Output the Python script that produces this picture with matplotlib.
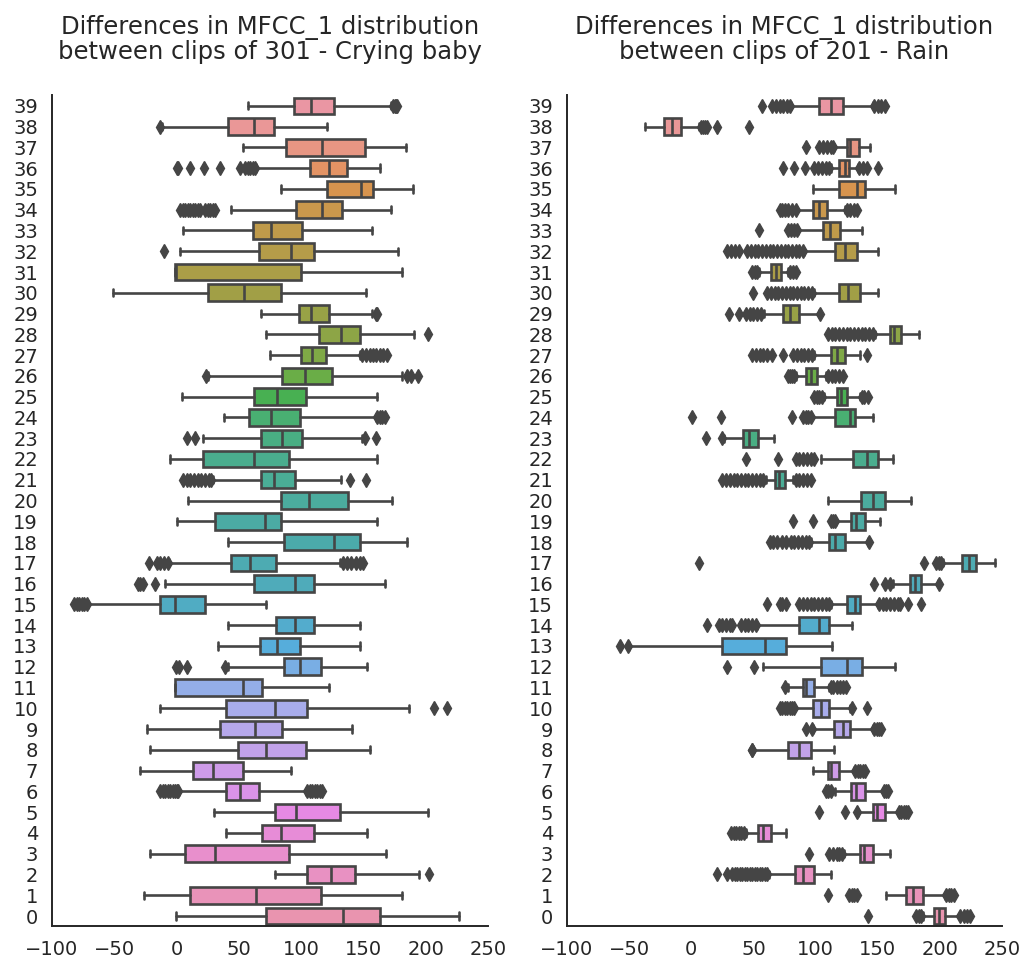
import colorsys

import matplotlib
matplotlib.use("Agg")
import matplotlib.pyplot as plt
import seaborn as sns

categories = list(range(40))

# MFCC_1 differences, 301 - Crying baby (index = category 0..39)
baby_whislo = [-0.3, -26, 79, -21, 40, 30, 2, -29, -21, -24,
               -13, -1, 41, 33, 41, -71, -9, -6, 41, 0,
               9, 29, -5, 21, 38, 4, 25, 75, 72, 68,
               -51, -1, 3, 5, 44, 84, 64, 53, -12, 57]
baby_q1 = [72, 11, 105, 7, 69, 79, 40, 13, 49, 35,
           40, -1, 86, 67, 80, -13, 62, 44, 86, 31,
           84, 68, 21, 68, 58, 62, 85, 100, 114, 98,
           25, -1, 66, 61, 96, 121, 107, 88, 41, 94]
baby_med = [134, 64, 124, 31, 84, 96, 51, 29, 72, 63,
            79, 53, 99, 81, 95, -1, 95, 59, 126, 71,
            106, 78, 62, 85, 76, 81, 103, 109, 132, 108,
            54, -0.8, 92, 76, 117, 148, 122, 117, 62, 108]
baby_q3 = [163, 116, 143, 90, 110, 131, 66, 53, 104, 85,
           105, 69, 116, 99, 110, 23, 110, 80, 147, 84,
           138, 95, 90, 101, 99, 104, 125, 120, 147, 122,
           84, 100, 110, 101, 133, 158, 137, 151, 78, 126]
baby_whishi = [227, 181, 195, 168, 153, 202, 104, 92, 155, 141,
               187, 122, 153, 147, 147, 72, 167, 131, 185, 161,
               173, 132, 161, 149, 160, 161, 181, 147, 191, 157,
               152, 181, 178, 157, 172, 190, 163, 184, 121, 172]
baby_fliers = [
    [], [], [203], [], [], [],
    [-13, -11, -9, -7, -5, -3, -1, 0, 1, 105, 107, 109, 111, 113, 115, 117],
    [], [], [], [207, 217], [], [-0.5, 2, 8, 39], [], [],
    [-82, -80, -78, -76, -74, -72],
    [-31, -29, -27, -17],
    [-22, -16, -13, -10, -7, 134, 137, 140, 144, 147, 150],
    [], [], [],
    [5, 8, 11, 14, 17, 20, 23, 26, 28, 139, 152],
    [], [8, 15, 151, 160], [161, 163, 165, 167], [],
    [24, 185, 188, 194],
    [149, 152, 155, 158, 160, 163, 166, 169],
    [202], [160, 161], [], [], [-10], [],
    [3, 5, 7, 9, 11, 13, 15, 17, 19, 23, 25, 27, 29, 31],
    [],
    [0, 1, 11, 22, 35, 51, 55, 57, 59, 61, 63],
    [], [-13], [174, 175, 176, 177],
]

# MFCC_1 differences, 201 - Rain
rain_whislo = [186.5, 157, 62.7, 122.5, 44, 134, 116, 98, 49.5, 98,
               83, 77.5, 58, -50, 53, 112.5, 162.3, 202.7, 96.4, 116.6,
               110, 60, 104.4, 26.4, 96.4, 107, 84.3, 99, 147.5, 58.7,
               99, 54.6, 91, 85.6, 84.3, 98.2, 112.5, 115.2, -37.4, 80.2]
rain_q1 = [195, 173, 83.5, 135.5, 54, 146, 128.7, 110, 77.5, 115,
           98, 89.6, 104.4, 25, 87, 125.4, 175.8, 218, 110.6, 128.7,
           136.7, 67.3, 130, 41.2, 115.7, 117.4, 92.3, 112.5, 159.6, 73.5,
           118.7, 64, 115.7, 105.8, 97.7, 119.2, 119.2, 125, -22, 102.6]
rain_med = [199, 178.5, 89.5, 139, 57.3, 149.7, 132.7, 112.5, 87, 122,
            104.4, 92.3, 125, 59.5, 102.6, 131.4, 179.8, 223.4, 116, 132.7,
            146.2, 70.8, 141.3, 46.6, 127.3, 120.6, 96.4, 117.4, 163, 79.7,
            126, 68, 124, 111.7, 102.6, 133.5, 123.3, 128, -15.3, 112]
rain_q3 = [204, 186.5, 99, 146, 64, 155.6, 139.4, 118.5, 96.4, 128,
           110.6, 99, 137.5, 76, 110.4, 136, 185.2, 228.8, 123.3, 139.4,
           156, 75.6, 150.2, 53.3, 132, 125.4, 101, 123.3, 169, 86.4,
           135.4, 72, 133.2, 120, 109, 139.4, 126.8, 135, -8.6, 122]
rain_whishi = [216, 204, 112, 159.5, 76, 166, 154, 131, 115, 146,
               128, 111, 163.7, 113, 129.5, 150, 198.7, 244.4, 142, 152,
               177, 81.6, 162.3, 66.8, 146.2, 135.4, 108.5, 135.4, 183.3, 102.6,
               150.2, 77.5, 150.2, 137.3, 124, 163.7, 134, 144, 6.2, 146]
rain_fliers = [
    [142, 181, 183, 185, 216.5, 219, 222, 224],
    [110, 127, 129, 131, 133, 205, 207, 209, 211],
    [21, 29, 33, 35, 37, 39, 41, 43, 45, 47, 49, 51, 53, 55, 57, 59, 61],
    [95, 111, 114, 117, 119, 121],
    [32, 34, 36, 38, 40, 42],
    [103, 124, 133, 167, 169, 171, 173, 174],
    [108.5, 110, 112, 155, 156.5, 158],
    [132, 134, 136, 138, 139.5],
    [48.5, 49],
    [92, 97, 147, 149, 151, 153],
    [71, 73, 75, 77, 79, 81, 83, 129, 141],
    [75.5, 112, 114, 117, 120, 122, 124.5],
    [29, 50.5],
    [-57.5, -51],
    [13, 22, 25, 28, 31, 33, 40, 43, 46, 49, 52],
    [61, 71, 73, 76, 87, 90, 93, 96, 99, 102, 105, 108, 111,
     151, 154, 157, 160, 163, 166, 168, 174, 185],
    [147, 155.6, 160, 199.3],
    [6, 187, 197, 199, 201],
    [63, 66, 69, 73, 76, 80, 83, 86, 89, 92, 95, 143],
    [81.6, 98, 112, 114, 116],
    [],
    [25, 28, 31, 34, 37, 40, 43, 46, 49, 52, 55, 58, 84, 87, 90, 93, 96],
    [44, 69.4, 84, 87, 90, 93, 96, 99],
    [11.6, 25],
    [0.8, 23.7, 81, 90, 92, 94, 96],
    [99, 101, 103, 105, 137, 139, 142],
    [77.5, 79, 81, 83, 110, 113, 116, 119, 122],
    [49, 52, 55, 58, 61, 65, 73.5, 82, 85, 88, 91, 94, 97, 141],
    [110, 113, 116, 119, 122, 125, 128, 131, 134, 137, 140, 143, 146],
    [30, 38, 44, 47, 50, 53, 56, 103.5],
    [50, 61, 64, 67, 70, 73, 76, 79, 82, 85, 88, 91, 94, 97],
    [48.7, 51, 53, 79, 82, 84],
    [29, 32, 35, 38, 45, 48, 51, 54, 57, 60, 63, 66, 69, 72, 75, 78, 81, 84, 87, 90],
    [54.6, 77.5, 80, 83, 85],
    [71, 73, 75, 78, 81, 84, 125, 128, 131, 133],
    [],
    [74, 83, 91.5, 99, 102, 105, 108, 111, 135, 138, 141, 150],
    [92, 103, 106, 109, 112, 114],
    [7.5, 9, 11, 13, 21, 46.6],
    [56.5, 64.6, 68, 71, 74, 77, 79, 147, 150, 153, 155.6],
]

x_ticks = [-100, -50, 0, 50, 100, 150, 200, 250]

sns.set_style("white")
plt.rcParams["font.family"] = ["DejaVu Sans"]

# husl colours, first one at the top (category 39)
palette = sns.color_palette(sns.husl_palette(len(categories), l=.7), desat=.75)
box_colors = palette[::-1]
lum = min(colorsys.rgb_to_hls(*c)[1] for c in palette) * .6
gray = (lum, lum, lum)
lw = 1.9


def draw_panel(ax, whislo, q1, med, q3, whishi, fliers, title):
    stats = []
    for i in range(len(categories)):
        stats.append(dict(whislo=whislo[i], q1=q1[i], med=med[i], q3=q3[i],
                          whishi=whishi[i], fliers=fliers[i]))
    bp = ax.bxp(stats, positions=categories, widths=0.8, capwidths=0.35,
                orientation='horizontal', patch_artist=True,
                boxprops=dict(edgecolor=gray, linewidth=lw),
                whiskerprops=dict(color=gray, linewidth=lw),
                capprops=dict(color=gray, linewidth=lw),
                medianprops=dict(color=gray, linewidth=lw),
                flierprops=dict(marker='d', markerfacecolor=gray,
                                markeredgecolor=gray, markersize=7))
    for patch, col in zip(bp['boxes'], box_colors):
        patch.set_facecolor(col)

    ax.set_xlim(-100, 250)
    ax.set_ylim(-0.5, 39.5)
    ax.set_xticks(x_ticks)
    ax.set_yticks(categories)
    ax.set_yticklabels([str(c) for c in categories])
    ax.tick_params(length=0, pad=10, labelsize=14, colors='.15')
    ax.set_title(title, fontsize=17.5, color='.15', pad=26, linespacing=1.02)
    for side in ['top', 'right']:
        ax.spines[side].set_visible(False)
    for side in ['left', 'bottom']:
        ax.spines[side].set_color('.15')
        ax.spines[side].set_linewidth(1.4)


fig = plt.figure(figsize=(10.23, 9.6), dpi=100)
ax1 = fig.add_axes([0.0508, 0.035, 0.4262, 0.8656])
ax2 = fig.add_axes([0.5543, 0.035, 0.4252, 0.8656])

draw_panel(ax1, baby_whislo, baby_q1, baby_med, baby_q3, baby_whishi, baby_fliers,
           'Differences in MFCC_1 distribution\nbetween clips of 301 - Crying baby')
draw_panel(ax2, rain_whislo, rain_q1, rain_med, rain_q3, rain_whishi, rain_fliers,
           'Differences in MFCC_1 distribution\nbetween clips of 201 - Rain')

fig.savefig('out.png', dpi=100)
